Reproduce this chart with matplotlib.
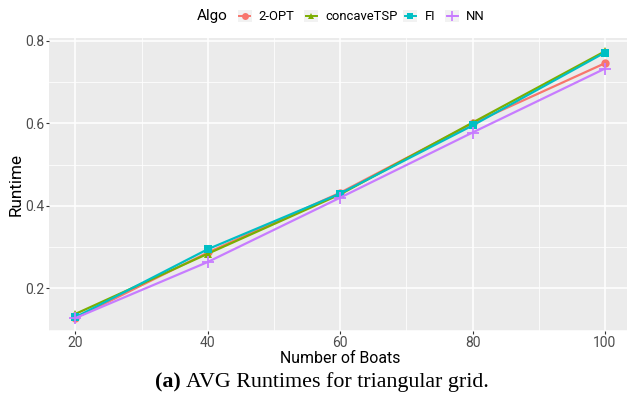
import matplotlib
matplotlib.use("Agg")
import matplotlib.pyplot as plt
from matplotlib.lines import Line2D
from matplotlib.patches import Rectangle
from matplotlib.transforms import offset_copy

# average runtimes per algorithm
boats = [20, 40, 60, 80, 100]
algos = ["2-OPT", "concaveTSP", "FI", "NN"]
rt_2opt = [0.128, 0.287, 0.432, 0.600, 0.746]
rt_concave = [0.138, 0.284, 0.428, 0.602, 0.775]
rt_fi = [0.130, 0.295, 0.430, 0.595, 0.772]
rt_nn = [0.128, 0.264, 0.420, 0.578, 0.733]
runtimes = [rt_2opt, rt_concave, rt_fi, rt_nn]

colors = ["#F8766D", "#7CAE00", "#00BFC4", "#C77CFF"]
markers = ["o", "^", "s", "+"]

plt.rcParams["font.family"] = ["Roboto", "DejaVu Sans"]

W, H = 627, 398
fig = plt.figure(figsize=(W / 100, H / 100), dpi=100)
ax = fig.add_axes([0.0781, 0.1683, 0.929, 0.736])
ax.set_facecolor("#EBEBEB")
for s in ax.spines.values():
    s.set_visible(False)

for name, vals, c, m in zip(algos, runtimes, colors, markers):
    ax.plot(boats, vals, color=c, lw=1.6, marker=m, ms=6 if m != "+" else 8,
            mew=1.3 if m == "+" else 0, label=name, zorder=3)

ax.set_xlim(16, 104)
ax.set_ylim(0.0965, 0.807)
ax.set_xticks(boats)
ax.set_yticks([0.2, 0.4, 0.6, 0.8])
ax.set_xticks([30, 50, 70, 90], minor=True)
ax.set_yticks([0.1, 0.3, 0.5, 0.7], minor=True)
ax.grid(which="major", color="white", lw=1.1)
ax.grid(which="minor", color="white", lw=0.55)
ax.set_axisbelow(True)
ax.tick_params(which="major", length=2.2, width=0.8, color="#333333",
               labelsize=10, labelcolor="#4D4D4D", pad=1.2)
ax.tick_params(which="minor", length=0)
ax.set_xlabel("Number of Boats", fontsize=11.4, labelpad=1)
ax.set_ylabel("Runtime", fontsize=12.3, labelpad=1)

# legend row along the top: title, then grey key squares with labels
leg_y = 1 - 16 / H
fig.text(197 / W, leg_y, "Algo", fontsize=11, va="center", ha="left")
key_x = [238, 304, 403, 445]
label_x = [258, 325, 425, 466]
for name, c, m, kx, lx in zip(algos, colors, markers, key_x, label_x):
    fig.add_artist(Rectangle((kx / W, (H - 22) / H), 14 / W, 12 / H,
                             transform=fig.transFigure, facecolor="#F2F2F2",
                             edgecolor="none"))
    fig.add_artist(Line2D([(kx + 1.5) / W, (kx + 7) / W, (kx + 12.5) / W],
                          [leg_y] * 3, transform=fig.transFigure, color=c,
                          lw=1.4, marker=m, markevery=[1],
                          ms=5 if m != "+" else 7,
                          mew=1.2 if m == "+" else 0))
    fig.text(lx / W, leg_y, name, fontsize=9.4, va="center", ha="left")

# caption: bold "(a)" followed by the title text
cap_y = 1 - 382 / H
t1 = fig.text(155 / W, cap_y, "(a)", fontsize=15.8, weight="bold",
              family="Liberation Serif", va="center", ha="left")
fig.canvas.draw()
w = t1.get_window_extent().width
fig.text(155 / W, cap_y, "AVG Runtimes for triangular grid.", fontsize=15.8,
         family="Liberation Serif", va="center", ha="left",
         transform=offset_copy(fig.transFigure, fig=fig, x=w + 5, units="dots"))

fig.savefig("out.png", dpi=100)
